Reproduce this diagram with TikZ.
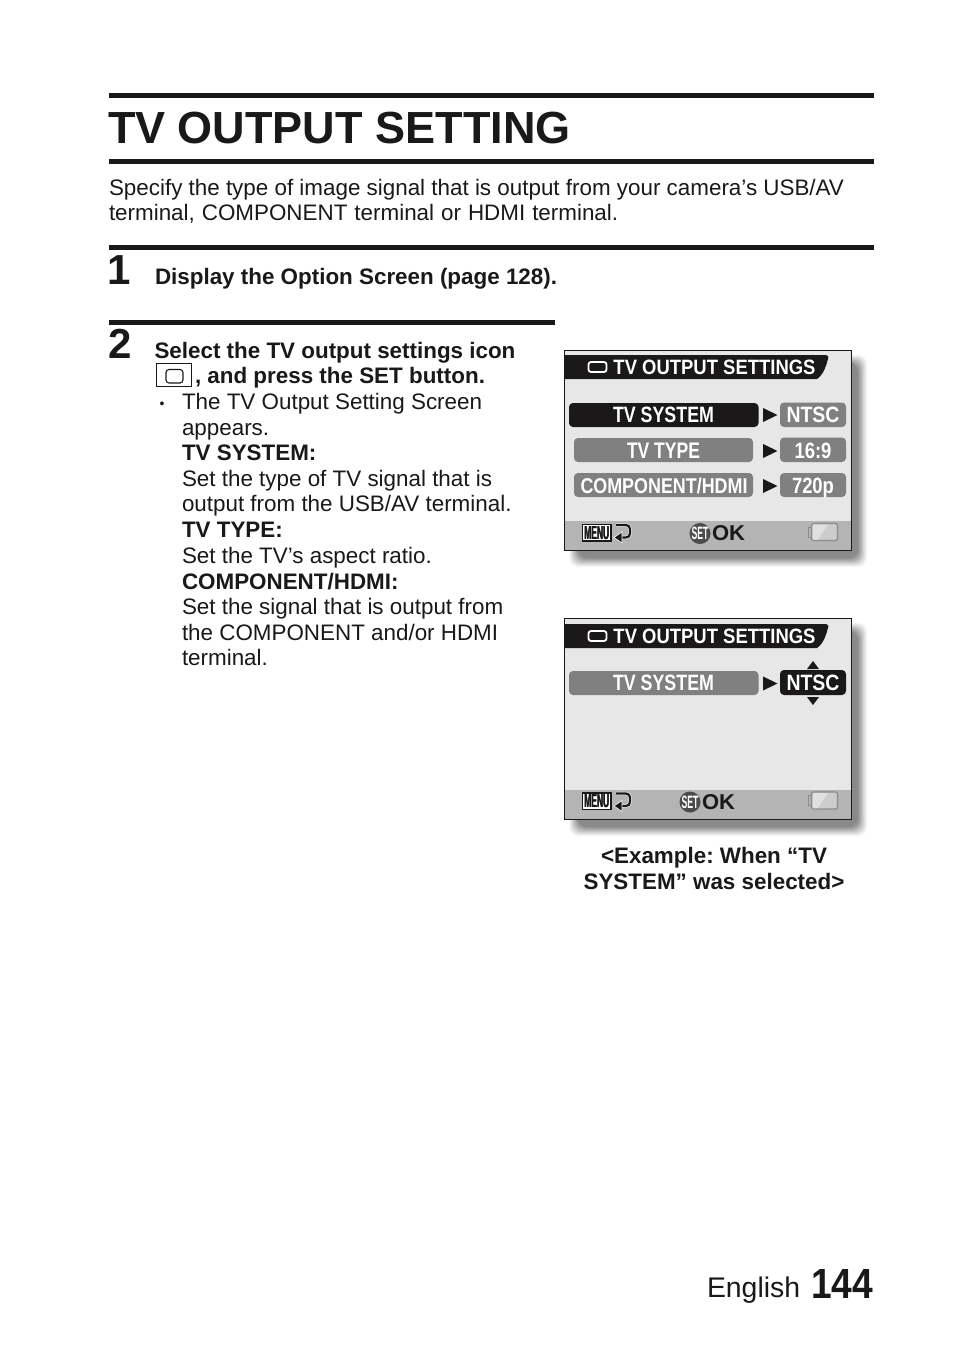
\documentclass[tikz,border=0pt]{standalone}
\usepackage{fontspec}
\usepackage{graphicx}
\setmainfont{Liberation Sans}
\definecolor{ink}{HTML}{1A1818}
\definecolor{pillgray}{HTML}{808080}
\definecolor{scrbg}{HTML}{E7E7E7}
\definecolor{bandgray}{HTML}{B4B4B4}
\tikzset{
  tx/.style={anchor=base west,inner sep=0pt,outer sep=0pt,text=ink,align=left},
  lcd/.style={anchor=base,inner sep=0pt,outer sep=0pt,text=#1},
  pill/.style={rounded corners=4pt,fill=#1,draw=none},
  bar/.style={fill=ink,draw=none},
  tri/.style={fill=ink,draw=none}
}
\newcommand{\body}{\frenchspacing\fontsize{22.4}{25.5}\selectfont}
\newcommand{\bbody}{\frenchspacing\fontsize{22.4}{25.5}\selectfont\bfseries}
\newcommand{\fit}[6]{\node[lcd=#1] at (#2,#3) {\resizebox{#4pt}{#5pt}{\bfseries #6}};}
% frame: top, bottom, titletop, bandtop
\newcommand{\scrframe}[4]{%
  \foreach \i/\g in {9/97,8/93,7/88,6/83,5/78,4/73,3/68,2/63,1/58,0/54}{
    \fill[color=white!\g!black,rounded corners=9pt] (578-\i,#1+13-\i) rectangle (858+\i,#2+8+\i);
  }
  \fill[scrbg] (564.5,#1) rectangle (851.5,#2);
  \fill[bandgray] (564.5,#4) rectangle (851.5,#2);
  \draw[ink,line width=1pt] (564.5,#1) rectangle (851.5,#2);
  \fill[ink] (565,#3) -- (823,#3) .. controls (828,#3) and (829,#3+1) .. (828,#3+4) .. controls (826,#3+11) and (824,#3+19) .. (817,#3+24) -- (565,#3+24) -- cycle;
  \draw[white,line width=1.8pt,rounded corners=2.5pt] (588.5,#3+7) rectangle (606.5,#3+17);
  \fit{white}{714.5}{#3+19.5}{202}{14.5}{TV OUTPUT SETTINGS}
}
% footer: offset, centre of SET, left of OK
\newcommand{\scrfoot}[3]{%
  \draw[ink,line width=1.3pt,fill=white] (582.5,#1+524.5) rectangle (611,#1+541);
  \fit{ink}{596.6}{#1+539}{25}{13}{MENU}
  \fit{ink}{597.1}{#1+539}{25}{13}{MENU}
  \draw[white,line width=3.2pt,rounded corners=4pt] (616,#1+525) -- (630,#1+525) -- (630,#1+537.5) -- (620,#1+537.5);
  \draw[ink,line width=2.2pt,rounded corners=4pt] (616,#1+525) -- (630,#1+525) -- (630,#1+537.5) -- (620,#1+537.5);
  \draw[white,line width=.6pt,fill=ink] (614,#1+537.5) -- (622,#1+532) -- (622,#1+543) -- cycle;
  \fill[black!70] (#2,#1+533.5) circle (10.5);
  \fit{white}{#2}{#1+539.5}{17}{12.5}{SET}
  \fit{ink}{#3+16.5}{#1+540.5}{33}{15}{OK}
  \draw[black!45,line width=1.1pt,rounded corners=1.5pt,fill=black!20] (811.5,#1+523.5) rectangle (837.5,#1+540.5);
  \fill[white!88!black] (813,#1+539.5) -- (813,#1+524.5) -- (828,#1+524.5) -- (818,#1+539.5) -- cycle;
  \draw[black!45,line width=.9pt] (811.5,#1+527) -- (808.5,#1+527) -- (808.5,#1+537) -- (811.5,#1+537);
}
\newcommand{\rtri}[1]{\fill[tri] (763,#1-7) -- (777.5,#1) -- (763,#1+7) -- cycle;}
\begin{document}
\begin{tikzpicture}[x=1pt,y=-1pt]
\useasboundingbox (0,0) rectangle (954,1350);
\fill[white] (0,0) rectangle (954,1350);
% rules
\fill[bar] (109,93) rectangle (874,98);
\fill[bar] (109,159) rectangle (874,164);
\fill[bar] (109,245) rectangle (874,250);
\fill[bar] (109,319.5) rectangle (555,324.5);
% headings
\node[tx] (title) at (108,143.5) {\fontsize{45}{45}\selectfont\bfseries TV OUTPUT SETTING};
\node[tx] (intro1) at (109,195) {\body Specify the type of image signal that is output from your camera’s USB/AV};
\node[tx] (intro2) at (109,220.5) {\body\spaceskip=7pt terminal, COMPONENT terminal or HDMI terminal.};
\node[tx] (num1) at (107,284.5) {\fontsize{42}{42}\selectfont\bfseries 1};
\node[tx] (s1) at (155,284.5) {\bbody Display the Option Screen (page 128).};
\node[tx] (num2) at (108,358.5) {\fontsize{42}{42}\selectfont\bfseries 2};
\node[tx] (s2a) at (154.5,358) {\bbody Select the TV output settings icon};
\draw[ink,line width=.9pt,fill=white] (156,363.5) rectangle (191.5,386);
\draw[ink,line width=1.1pt,rounded corners=3pt] (166,369.5) rectangle (183,383);
\node[tx] (s2b) at (195,383.5) {\bbody , and press the SET button.};
\node[tx] (bul) at (159.5,408) {\fontsize{14}{14}\selectfont •};
\node[tx] at (182,409) {\body The TV Output Setting Screen};
\node[tx] at (182,435) {\body appears.};
\node[tx] at (182,460) {\bbody TV SYSTEM:};
\node[tx] at (182,486) {\body Set the type of TV signal that is};
\node[tx] at (182,511.5) {\body output from the USB/AV terminal.};
\node[tx] at (182,537) {\bbody TV TYPE:};
\node[tx] at (182,563) {\body Set the TV’s aspect ratio.};
\node[tx] at (182,589) {\bbody COMPONENT/HDMI:};
\node[tx] at (182,614) {\body Set the signal that is output from};
\node[tx] at (182,640) {\body the COMPONENT and/or HDMI};
\node[tx] at (182,665.5) {\body terminal.};
% screen 1
\scrframe{350.5}{550}{355}{521}
\fill[pill=ink] (569,403) rectangle (758.5,427);
\fill[pill=pillgray] (574,438) rectangle (753,462);
\fill[pill=pillgray] (574,473) rectangle (753,497);
\fill[pill=pillgray] (780,402.5) rectangle (846,427);
\fill[pill=pillgray] (780,437.5) rectangle (846,462);
\fill[pill=pillgray] (780,473) rectangle (846,497);
\rtri{415}\rtri{451}\rtri{486}
\fit{white}{663.5}{422}{101}{15.5}{TV SYSTEM}
\fit{white}{663.5}{458}{73}{15.5}{TV TYPE}
\fit{white}{664}{493}{167}{15.5}{COMPONENT/HDMI}
\fit{white}{813}{422}{53}{15.5}{NTSC}
\fit{white}{813}{458}{37}{15.5}{16:9}
\fit{white}{813}{493}{42}{15.5}{720p}
\scrfoot{0}{700}{712}
% screen 2
\scrframe{618.5}{819}{624}{789.5}
\fill[pill=pillgray] (569,671) rectangle (758.5,695);
\fill[pill=ink] (780,670) rectangle (846,695);
\rtri{683.5}
\fill[tri] (807,669) -- (813,661) -- (819,669) -- cycle;
\fill[tri] (807,697) -- (813,705) -- (819,697) -- cycle;
\fit{white}{663.5}{690.5}{101}{15.5}{TV SYSTEM}
\fit{white}{813}{690.5}{53}{15.5}{NTSC}
\scrfoot{268.5}{690}{702}
% caption
\node[anchor=base,inner sep=0pt,text=ink] at (714,863) {\bbody <Example: When “TV};
\node[anchor=base,inner sep=0pt,text=ink] at (714,889) {\bbody SYSTEM” was selected>};
% page number
\node[tx] at (707,1297) {\fontsize{28.4}{29}\selectfont English};
\node[anchor=base east,inner sep=0pt,text=ink] at (873.5,1298) {\resizebox{62pt}{29pt}{\bfseries 144}};
\end{tikzpicture}
\end{document}
